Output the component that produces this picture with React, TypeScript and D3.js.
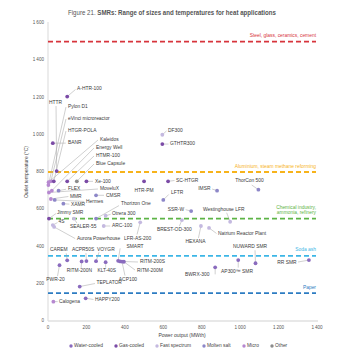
import React from "react";
import * as d3 from "d3";

// ---------- DATA ----------
const reactorNames = [
  "A-HTR-100", "HTTR", "BANR", "Pylon D1", "eVinci microreactor", "HTGR-POLA", "Kaleidos", "Energy Well",
  "HTMR-100", "Blue Capsule", "Xe-100", "FLEX", "MoveluX", "MMR", "Hermes", "CMSR", "XAMR", "Thorizon One",
  "Otrera 300", "Jimmy SMR", "4S", "Aurora Powerhouse", "SEALER-55", "ARC-100", "LFR-AS-200", "HTR-PM",
  "SC-HTGR", "LFTR", "IMSR", "ThorCon 500", "SSR-W", "Westinghouse LFR", "BREST-OD-300", "HEXANA",
  "Natrium Reactor Plant", "DF300", "GTHTR300", "CAREM", "ACPR50S", "RITM-200N", "VOYGR", "KLT-40S",
  "SMART", "RITM-200S", "RITM-200M", "ACP100", "PWR-20", "TEPLATOR", "Calogena", "HAPPY200",
  "BWRX-300", "AP300\u2122 SMR", "NUWARD SMR", "RR SMR",
];
const powerMWth = [
  100, 45, 25, 2, 15, 30, 3, 20,
  100, 150, 200, 55, 5, 15, 35, 250, 80, 250,
  300, 5, 25, 32, 135, 290, 480, 500,
  625, 600, 880, 1095, 745, 948, 697, 796,
  838, 595, 595, 100, 200, 175, 250, 300,
  365, 375, 395, 385, 60, 165, 28, 196,
  870, 990, 1080, 1358,
];
const outletTempC = [
  1205, 805, 955, 730, 750, 750, 745, 700,
  750, 750, 750, 700, 690, 655, 650, 675, 630, 550,
  565, 550, 515, 505, 550, 510, 530, 750,
  750, 650, 700, 705, 590, 533, 542, 510,
  500, 1000, 950, 326, 322, 320, 321, 316,
  323, 320, 318, 319, 300, 185, 104, 122,
  288, 327, 310, 327,
];
const reactorTypes = [
  "Gas-cooled", "Gas-cooled", "Gas-cooled", "Micro", "Micro", "Gas-cooled", "Micro", "Micro",
  "Gas-cooled", "Other", "Gas-cooled", "Molten salt", "Micro", "Micro", "Molten salt", "Molten salt", "Molten salt", "Molten salt",
  "Fast spectrum", "Gas-cooled", "Fast spectrum", "Fast spectrum", "Fast spectrum", "Fast spectrum", "Fast spectrum", "Gas-cooled",
  "Gas-cooled", "Molten salt", "Molten salt", "Molten salt", "Molten salt", "Fast spectrum", "Fast spectrum", "Fast spectrum",
  "Fast spectrum", "Fast spectrum", "Gas-cooled", "Water-cooled", "Water-cooled", "Water-cooled", "Water-cooled", "Water-cooled",
  "Water-cooled", "Water-cooled", "Water-cooled", "Water-cooled", "Water-cooled", "Water-cooled", "Micro", "Water-cooled",
  "Water-cooled", "Water-cooled", "Water-cooled", "Water-cooled",
];

const categories = ["Water-cooled", "Gas-cooled", "Fast spectrum", "Molten salt", "Micro", "Other"];

const thresholdTemps = [1500, 800, 550, 350, 150];
const thresholdLabels = [
  ["Steel, glass, ceramics, cement"],
  ["Aluminium, steam methane reforming"],
  ["Chemical industry,", "ammonia, refinery"],
  ["Soda ash"],
  ["Paper"],
];

const xTickValues = [0, 200, 400, 600, 800, 1000, 1200, 1400];
const yTickValues = [0, 200, 400, 600, 800, 1000, 1200, 1400, 1600];

// ---------- LAYOUT / STYLE ----------
// label offsets from the dot: [textDx, textDy, anchor, leaderDx, leaderDy]
type Lay = [number, number, string, number | null, number | null];
const labelLayout: Lay[] = [
  [9.8, -8.1, "start", 8.3, -7.1],
  [-1.1, -68.1, "middle", -0.6, -65],
  [15.2, 0, "start", 13, 0],
  [19.6, -78, "start", 17.6, -78],
  [17.1, -62.3, "start", 15.1, -62.3],
  [14.2, -50.3, "start", 12.2, -50.3],
  [51.4, -42.7, "start", 49.4, -42.2],
  [44.2, -42.6, "start", 42.2, -42.6],
  [28.8, -25.3, "start", 26.8, -25.3],
  [19.2, -17.8, "start", 17.2, -17.3],
  [8.6, 0, "start", 6.6, 0],
  [9.4, -1.6, "start", 7.5, -1.4],
  [51, -4, "start", 49, -3.5],
  [19.1, -2.5, "start", 17.5, -2.5],
  [31.3, 1.5, "start", 29.5, 1.5],
  [10, 0, "start", 8, 0],
  [7.6, 0.8, "start", 6, 0.5],
  [25, -14.6, "start", 23, -13],
  [6.4, -2, "start", 5, -1.5],
  [8, -6.1, "start", 7, -5],
  [5.7, -3.1, "start", 4.7, -2.5],
  [22.9, 12.1, "start", 21, 11.6],
  [-3.9, 7.9, "start", 3, 4.5],
  [8.3, 0, "start", 6.5, 0],
  [-16.2, 16.2, "start", -3.2, 12.2],
  [0, 9.7, "middle", null, null],
  [7.9, -0.8, "start", 6.4, -0.8],
  [7.7, -6.9, "start", 5.5, -5.5],
  [-6.6, -2.1, "end", -5, -1.6],
  [-8.9, -8.7, "middle", -6.7, -4.7],
  [-7.1, -1.6, "end", -5.5, -1.4],
  [-27.2, -12.4, "start", -3.5, -9],
  [-25, 9.4, "start", -2.5, 6],
  [-5.4, 16, "middle", -2.5, 12],
  [9, 6.1, "start", 7.5, 5.6],
  [5.7, -4.3, "start", 4.2, -3.8],
  [7.7, 0, "start", 6.2, 0],
  [-17.2, -10.3, "start", -1, -7],
  [-14.4, -11, "start", -0.5, -8],
  [-14.9, 9.3, "start", -0.5, 6.5],
  [1, -11.2, "start", 3, -9],
  [1.1, 8.6, "middle", 0, 5.5],
  [8.4, -13.8, "start", 2, -12.5],
  [19.9, 0.6, "start", 17.9, 0.6],
  [13.1, 8.9, "start", 11.1, 8.2],
  [6, 17.9, "middle", 3, 14],
  [-4, 14.4, "middle", -2, 11],
  [16.8, -3.5, "start", 15.3, -3],
  [5.6, 0.4, "start", 4.3, 0],
  [9.3, 1.7, "start", 7.8, 1.2],
  [-5.7, 7.6, "end", 0, 7],
  [-1.2, 11.4, "middle", 0, 7.5],
  [-5.5, -16.3, "middle", -0.5, -13],
  [-12.4, 2.2, "end", -10.9, 1.9],
];

const typeColors: Record<string, string> = {
  "Water-cooled": "#8a6bbe",
  "Gas-cooled": "#7b4ba6",
  "Fast spectrum": "#c4b9e0",
  "Molten salt": "#8d87c8",
  "Micro": "#b688d0",
  "Other": "#8c8c8c",
};
const thresholdColors = ["#d7343c", "#f7b31b", "#5db446", "#3cb6e6", "#2d7cc2"];
const legendX = [71, 116, 157, 204, 244, 272];

const FONT = "'Liberation Sans', Arial, sans-serif";

export default function App() {
  const W = 356, H = 364;
  const x = d3.scaleLinear().domain([0, 1400]).range([48, 317]);
  const y = d3.scaleLinear().domain([0, 1600]).range([321, 23]);
  const fmt = (v: number) => d3.format(",")(v).replace(",", "\u2009");

  const pts = reactorNames.map((n, i) => ({
    name: n,
    px: x(powerMWth[i]),
    py: y(outletTempC[i]),
    type: reactorTypes[i],
    lay: labelLayout[i],
  }));

  return (
    <svg width={W} height={H} style={{ position: "absolute", left: 0, top: 0, background: "#fff" }} fontFamily={FONT}>
      <rect x={0} y={0} width={W} height={H} fill="#fff" />
      {/* title */}
      <text x={68} y={13} fontSize={6.6} fill="#555" dominantBaseline="middle" textLength={208} lengthAdjust="spacingAndGlyphs">
        <tspan>Figure 21. </tspan>
        <tspan fontWeight="bold">SMRs: Range of sizes and temperatures for heat applications</tspan>
      </text>

      {/* axes */}
      <line x1={48} x2={48} y1={22} y2={321} stroke="#c8c8c8" strokeWidth={0.7} />
      <line x1={48} x2={318} y1={321} y2={321} stroke="#e0e0e0" strokeWidth={1.4} />
      {yTickValues.map((v) => (
        <text key={"y" + v} x={44} y={y(v)} fontSize={4.6} fill="#555" textAnchor="end" dominantBaseline="middle">
          {fmt(v)}
        </text>
      ))}
      {xTickValues.map((v) => (
        <text key={"x" + v} x={x(v)} y={328} fontSize={4.6} fill="#555" textAnchor="middle" dominantBaseline="middle">
          {fmt(v)}
        </text>
      ))}
      <text transform={`translate(27,172) rotate(-90)`} fontSize={5} fill="#444" textAnchor="middle" dominantBaseline="middle">
        Outlet temperature (°C)
      </text>
      <text x={182} y={335.5} fontSize={5} fill="#444" textAnchor="middle" dominantBaseline="middle">
        Power output (MWth)
      </text>

      {/* thresholds */}
      {thresholdTemps.map((t, i) => (
        <g key={"t" + t}>
          <line x1={48} x2={316} y1={y(t)} y2={y(t)} stroke={thresholdColors[i]} strokeWidth={1.8} strokeDasharray="5,3" />
          {thresholdLabels[i].map((s, j) => (
            <text
              key={s}
              x={316}
              y={y(t) - 5.7 - (thresholdLabels[i].length - 1 - j) * 5.6}
              fontSize={4.9}
              fill={thresholdColors[i]}
              textAnchor="end"
              dominantBaseline="middle"
            >
              {s}
            </text>
          ))}
        </g>
      ))}

      {/* leaders */}
      {pts.map((p, i) =>
        p.lay[3] !== null ? (
          <line
            key={"l" + i}
            x1={p.px}
            y1={p.py}
            x2={p.px + (p.lay[3] as number)}
            y2={p.py + (p.lay[4] as number)}
            stroke="#a0a0a0"
            strokeWidth={0.5}
          />
        ) : null
      )}
      {/* dots */}
      {pts.map((p, i) => (
        <circle key={"c" + i} cx={p.px} cy={p.py} r={1.9} fill={typeColors[p.type]} />
      ))}
      {/* labels */}
      {pts.map((p, i) => (
        <text
          key={"n" + i}
          x={p.px + p.lay[0]}
          y={p.py + p.lay[1]}
          fontSize={4.9}
          fill="#3a3a3a"
          textAnchor={p.lay[2]}
          dominantBaseline="middle"
        >
          {p.name}
        </text>
      ))}

      {/* legend */}
      {categories.map((c, i) => (
        <g key={"lg" + c}>
          <circle cx={legendX[i]} cy={346} r={1.7} fill={typeColors[c]} />
          <text x={legendX[i] + 3} y={346} fontSize={4.9} fill="#444" dominantBaseline="middle">
            {c}
          </text>
        </g>
      ))}
    </svg>
  );
}
